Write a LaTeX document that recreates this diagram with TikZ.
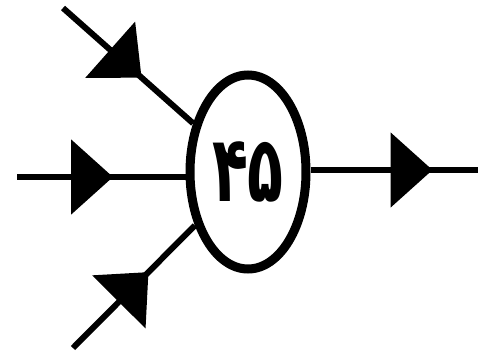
\documentclass[tikz,border=0pt]{standalone}
\usepackage{fontspec}
\usepackage{graphicx}
\newfontfamily\arabicfont[Script=Arabic]{DejaVu Sans}
\usetikzlibrary{arrows.meta,shapes.geometric,decorations.markings}
\tikzset{
  flowline/.style={line width=6pt, black},
  midtip/.style={postaction={decorate}, decoration={markings,
      mark=at position #1 with {\arrow{Triangle[length=42pt,width=74pt]}}}},
  procnode/.style={draw, ellipse, line width=9pt, minimum width=116pt, minimum height=194pt, inner sep=0pt, font=\arabicfont\bfseries\fontsize{92}{100}\selectfont}
}
\begin{document}
\begin{tikzpicture}[x=1pt,y=-1pt]
  \useasboundingbox[fill=white] (0,0) rectangle (485,353);
  \node[procnode] (c) at (248,172) {\scalebox{0.64}[1]{۴۵}};
  \coordinate (tl) at (63,8);
  \coordinate (ml) at (17,177);
  \coordinate (bl) at (73,348);
  \coordinate (mr) at (478,170);
  \draw[flowline, midtip=105pt] (tl) -- (c);
  \draw[flowline, midtip=96pt] (ml) -- (ml -| c.west);
  \draw[flowline, midtip=107pt] (bl) -- (c);
  \draw[flowline, midtip=122pt] (c.east |- mr) -- (mr);
\end{tikzpicture}
\end{document}
